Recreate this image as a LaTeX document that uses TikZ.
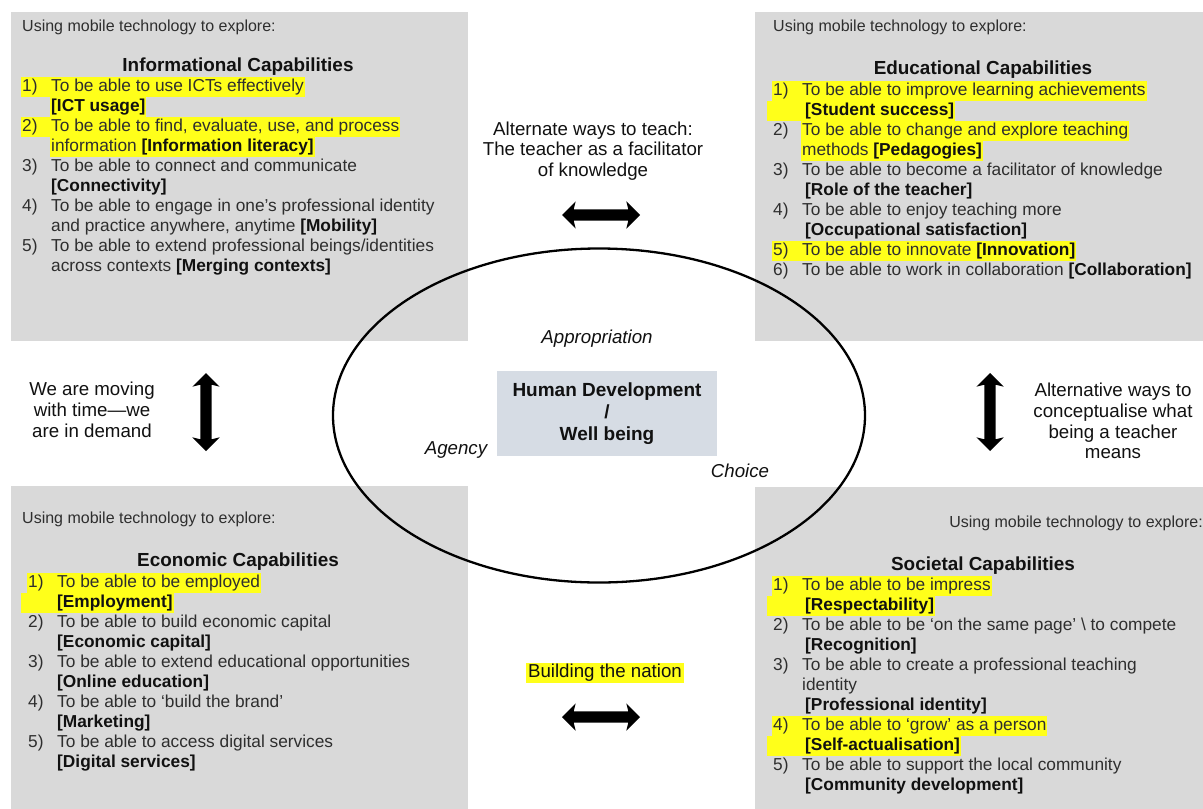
\documentclass[tikz,border=0pt]{standalone}
\usepackage{fontspec}
\setmainfont{Liberation Sans}
\usetikzlibrary{shapes.geometric,shapes.arrows}

\definecolor{panel}{HTML}{D9D9D9}
\definecolor{core}{HTML}{D6DCE4}
\definecolor{hil}{HTML}{FFFF1A}
\definecolor{txt}{HTML}{2E2E2E}
\definecolor{ink}{HTML}{111111}

\newcommand\lstfont{\fontsize{17.3}{20}\selectfont}
\newcommand\hdrfont{\fontsize{16}{19}\selectfont}
\newcommand\ttlfont{\fontsize{18.9}{22}\selectfont\bfseries}
\newcommand\midfont{\fontsize{18.7}{20.8}\selectfont}
\newcommand\itemno[1]{\makebox[29pt][l]{#1}}
\newcommand\capname[1]{{\bfseries\color{ink}#1}}

\begin{document}
\begin{tikzpicture}[x=1pt,y=-1pt,
  panelbox/.style={fill=panel, draw=none, anchor=north west, inner sep=0pt},
  ln/.style={anchor=west, inner xsep=1pt, inner ysep=0pt, text height=14.5pt, text depth=5.5pt, font=\lstfont, text=txt},
  hl/.style={ln, fill=hil},
  hdr/.style={anchor=west, inner sep=0pt, font=\hdrfont, text=txt},
  ttl/.style={inner sep=0pt, font=\ttlfont, text=ink},
  midtext/.style={inner sep=0pt, align=center, font=\midfont, text=ink},
  cue/.style={inner sep=0pt, font=\midfont\itshape, text=ink},
  bigarrow/.style={double arrow, fill=black, draw=none, inner xsep=0pt, inner ysep=5.5pt,
    minimum height=78pt, minimum width=27pt,
    double arrow head extend=8pt, double arrow head indent=2pt}
]
\fill[white] (0,0) rectangle (1203,809);
\useasboundingbox (0,0) rectangle (1203,809);

% four grey panels
\node[panelbox, minimum width=457pt, minimum height=329pt] (pInfo) at (11,12) {};
\node[panelbox, minimum width=448pt, minimum height=329pt] (pEdu) at (755,12) {};
\node[panelbox, minimum width=457pt, minimum height=323pt] (pEco) at (11,486) {};
\node[panelbox, minimum width=448pt, minimum height=322pt] (pSoc) at (755,487) {};

% central ellipse and core box
\node[ellipse, draw=black, line width=2.3pt, minimum width=532pt, minimum height=334pt, inner sep=0pt] (ring) at (599,415.5) {};
\node[fill=core, minimum width=220pt, minimum height=85pt, inner sep=0pt, align=center,
      font=\fontsize{19}{22}\selectfont\bfseries, text=ink] (core) at (607,413.5)
      {Human Development\\/\\Well being};
\node[cue] (appr) at (597,339) {Appropriation};
\node[cue] (agency) at (456,450) {Agency};
\node[cue] (choice) at (740,471) {Choice};

% Informational capabilities
\node[hdr] (hInfo) at (22,27) {Using mobile technology to explore:};
\node[ttl] (tInfo) at (238,67) {Informational Capabilities};
\node[hl] (i1a) at (21,87) {\itemno{1)}To be able to use ICTs effectively};
\node[hl] (i1b) at (50,107) {\capname{[ICT usage]}};
\node[hl] (i2a) at (21,127) {\itemno{2)}To be able to find, evaluate, use, and process};
\node[hl] (i2b) at (50,147) {information \capname{[Information literacy]}};
\node[ln] (i3a) at (21,167) {\itemno{3)}To be able to connect and communicate};
\node[ln] (i3b) at (50,187) {\capname{[Connectivity]}};
\node[ln] (i4a) at (21,207) {\itemno{4)}To be able to engage in one’s professional identity};
\node[ln] (i4b) at (50,227) {and practice anywhere, anytime \capname{[Mobility]}};
\node[ln] (i5a) at (21,247) {\itemno{5)}To be able to extend professional beings/identities};
\node[ln] (i5b) at (50,267) {across contexts \capname{[Merging contexts]}};

% Educational capabilities
\node[hdr] (hEdu) at (773,27) {Using mobile technology to explore:};
\node[ttl] (tEdu) at (983,70) {Educational Capabilities};
\node[hl] (e1a) at (772,91) {\itemno{1)}To be able to improve learning achievements};
\node[hl] (e1b) at (767,111) {\hspace{37pt}\capname{[Student success]}};
\node[ln] (e2n) at (772,131) {2)};
\node[hl] (e2a) at (801,131) {To be able to change and explore teaching};
\node[hl] (e2b) at (801,151) {methods \capname{[Pedagogies]}};
\node[ln] (e3a) at (772,171) {\itemno{3)}To be able to become a facilitator of knowledge};
\node[ln] (e3b) at (804,191) {\capname{[Role of the teacher]}};
\node[ln] (e4a) at (772,211) {\itemno{4)}To be able to enjoy teaching more};
\node[ln] (e4b) at (804,231) {\capname{[Occupational satisfaction]}};
\node[hl] (e5a) at (772,251) {\itemno{5)}To be able to innovate \capname{[Innovation]}};
\node[ln] (e6a) at (772,271) {\itemno{6)}To be able to work in collaboration \capname{[Collaboration]}};

% Economic capabilities
\node[hdr] (hEco) at (22,519) {Using mobile technology to explore:};
\node[ttl] (tEco) at (238,562) {Economic Capabilities};
\node[hl] (c1a) at (27,583) {\itemno{1)}To be able to be employed};
\node[hl] (c1b) at (21,603) {\hspace{35pt}\capname{[Employment]}};
\node[ln] (c2a) at (27,623) {\itemno{2)}To be able to build economic capital};
\node[ln] (c2b) at (56,643) {\capname{[Economic capital]}};
\node[ln] (c3a) at (27,663) {\itemno{3)}To be able to extend educational opportunities};
\node[ln] (c3b) at (56,683) {\capname{[Online education]}};
\node[ln] (c4a) at (27,703) {\itemno{4)}To be able to ‘build the brand’};
\node[ln] (c4b) at (56,723) {\capname{[Marketing]}};
\node[ln] (c5a) at (27,743) {\itemno{5)}To be able to access digital services};
\node[ln] (c5b) at (56,763) {\capname{[Digital services]}};

% Societal capabilities
\node[hdr, anchor=east] (hSoc) at (1203,523) {Using mobile technology to explore:};
\node[ttl] (tSoc) at (983,566) {Societal Capabilities};
\node[hl] (s1a) at (772,586) {\itemno{1)}To be able to be impress};
\node[hl] (s1b) at (767,606) {\hspace{37pt}\capname{[Respectability]}};
\node[ln] (s2a) at (772,626) {\itemno{2)}To be able to be ‘on the same page’ \textbackslash\ to compete};
\node[ln] (s2b) at (804,646) {\capname{[Recognition]}};
\node[ln] (s3a) at (772,666) {\itemno{3)}To be able to create a professional teaching};
\node[ln] (s3b) at (801,686) {identity};
\node[ln] (s3c) at (804,706) {\capname{[Professional identity]}};
\node[hl] (s4a) at (772,726) {\itemno{4)}To be able to ‘grow’ as a person};
\node[hl] (s4b) at (767,746) {\hspace{37pt}\capname{[Self-actualisation]}};
\node[ln] (s5a) at (772,766) {\itemno{5)}To be able to support the local community};
\node[ln] (s5b) at (804,786) {\capname{[Community development]}};

% links between the four capability areas
\node[midtext] (teach) at (593,151) {Alternate ways to teach:\\The teacher as a facilitator\\of knowledge};
\node[bigarrow] (aTop) at (601,215) {};
\node[midtext] (demand) at (92,410) {We are moving\\with time—we\\are in demand};
\node[bigarrow, rotate=90] (aLeft) at (206,412) {};
\node[midtext] (concept) at (1113,421) {Alternative ways to\\conceptualise what\\being a teacher\\means};
\node[bigarrow, rotate=90] (aRight) at (990,412) {};
\node[midtext, fill=hil, inner xsep=2pt, text height=14.5pt, text depth=5.5pt] (nation) at (605,673) {Building the nation};
\node[bigarrow] (aBottom) at (601,717) {};
\end{tikzpicture}
\end{document}
